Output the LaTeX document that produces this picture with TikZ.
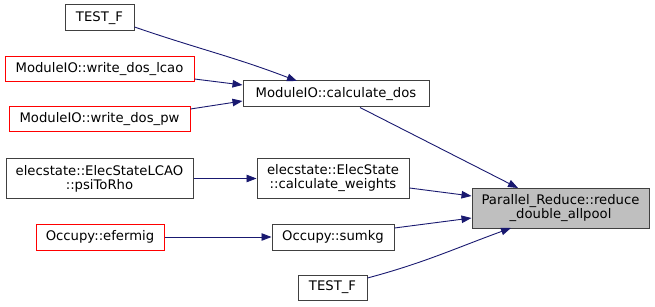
\documentclass[tikz,border=0pt]{standalone}
\usepackage{fontspec}
\setmainfont{DejaVu Sans}
\usetikzlibrary{arrows.meta}
\definecolor{edgeblue}{HTML}{191970}
\definecolor{boxgray}{HTML}{404040}
\definecolor{boxred}{HTML}{FF0000}
\definecolor{fillgray}{HTML}{BFBFBF}
\begin{document}
\begin{tikzpicture}[x=1pt,y=-1pt,
  fn/.style={draw=boxgray, line width=1pt, fill=white, inner sep=0pt, align=center,
    font=\fontsize{13.2}{14}\selectfont},
  fnred/.style={fn, draw=boxred},
  fnsel/.style={fn, fill=fillgray},
  call/.style={draw=edgeblue, line width=0.9pt,
    -{Triangle[length=10pt,width=7.5pt]}, fill=none}
]
\useasboundingbox (0,0) rectangle (655,307);
% callers of calculate_dos
\node[fn, minimum width=69pt, minimum height=26pt] (testa) at (99.5,18) {TEST\_F};
\node[fnred, minimum width=189pt, minimum height=25pt] (lcao) at (99.5,69) {ModuleIO::write\_dos\_lcao};
\node[fnred, minimum width=181pt, minimum height=25pt] (pw) at (99.5,119.5) {ModuleIO::write\_dos\_pw};
\node[fn, minimum width=186pt, minimum height=26pt] (dos) at (336,94) {ModuleIO::calculate\_dos};
% weights chain
\node[fn, minimum width=187pt, minimum height=39pt] (rho) at (99.5,178.5) {elecstate::ElecStateLCAO\\::psiToRho};
\node[fn, minimum width=152pt, minimum height=39pt] (wts) at (333,178.5) {elecstate::ElecState\\::calculate\_weights};
% occupation chain
\node[fnred, minimum width=128pt, minimum height=26pt] (ef) at (100,237) {Occupy::efermig};
\node[fn, minimum width=122pt, minimum height=26pt] (sumkg) at (333,237) {Occupy::sumkg};
\node[fn, minimum width=69pt, minimum height=25pt] (testb) at (332.5,287.5) {TEST\_F};
% target
\node[fnsel, minimum width=177pt, minimum height=40pt] (red) at (560.5,208) {Parallel\_Reduce::reduce\\\_double\_allpool};
% calls
\draw[call] (testa.east |- 0,27) to[out=-19,in=159] (297,81);
\draw[call] (lcao.east |- 0,79) -- (dos.west |- 0,85);
\draw[call] (pw.east |- 0,109) -- (dos.west |- 0,101);
\draw[call] (rho.east) -- (wts.west);
\draw[call] (ef.east) -- (sumkg.west);
\draw[call] (dos.south -| 360,0) -- (518,188);
\draw[call] (wts.east |- 0,188) -- (red.west |- 0,196);
\draw[call] (sumkg.east |- 0,228) -- (red.west |- 0,218);
\draw[call] (testb.east |- 0,278) to[out=15,in=-160] (511,228);
\end{tikzpicture}
\end{document}
